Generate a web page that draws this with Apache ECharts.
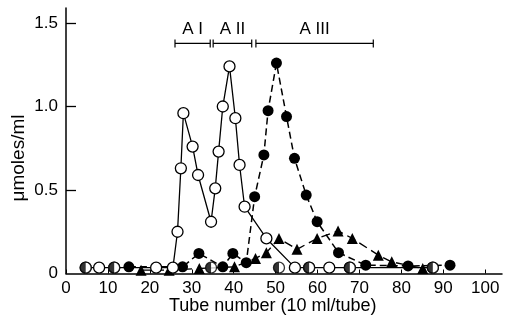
<!DOCTYPE html>
<html><head><meta charset="utf-8">
<script src="https://cdn.jsdelivr.net/npm/echarts@6/dist/echarts.min.js"></script>
<style>html,body{margin:0;padding:0;background:#fff}#c{width:506px;height:320px}</style>
</head><body><div id="c"></div>
<script>
// Open circles (solid line)
const openX = [4.7, 7.9, 11.5, 21.5, 25.5, 26.6, 27.4, 28.0, 30.2, 31.5, 34.6, 35.6, 36.4, 37.4, 39.0, 40.4, 41.4, 42.6, 47.8, 54.6, 58.0, 62.8, 67.7, 87.5];
const openY = [0.035, 0.035, 0.035, 0.035, 0.035, 0.25, 0.63, 0.96, 0.76, 0.59, 0.31, 0.51, 0.73, 1.0, 1.24, 0.93, 0.65, 0.40, 0.21, 0.035, 0.035, 0.035, 0.035, 0.035];
// Filled circles (dashed line)
const filledX = [15.0, 27.8, 31.7, 37.4, 39.8, 43.0, 45.0, 47.2, 48.2, 50.2, 52.6, 54.5, 57.3, 59.9, 65.0, 71.5, 81.6, 91.6];
const filledY = [0.04, 0.04, 0.12, 0.04, 0.12, 0.065, 0.46, 0.71, 0.975, 1.26, 0.94, 0.69, 0.47, 0.31, 0.125, 0.05, 0.045, 0.05];
// Triangles (dashed line)
const triX = [17.9, 24.6, 31.8, 40.2, 45.2, 47.8, 50.8, 55.1, 59.9, 64.9, 68.3, 74.5, 77.7, 85.1];
const triY = [0.02, 0.02, 0.03, 0.04, 0.09, 0.125, 0.21, 0.145, 0.21, 0.255, 0.21, 0.11, 0.07, 0.03];
// Half-filled circles at baseline
const halfX = [4.7, 11.5, 34.6, 50.8, 58.0, 67.7, 87.5];
const halfY = [0.035, 0.035, 0.035, 0.035, 0.035, 0.035, 0.035];
// Fraction bars
const fracNames = ['A I', 'A II', 'A III'];
const fracStart = [26.0, 35.1, 45.3];
const fracEnd = [34.4, 44.3, 73.3];
const fracLevel = [1.378, 1.378, 1.378];
// Ticks
const xTicks = [0, 10, 20, 30, 40, 50, 60, 70, 80, 90, 100];
const yLabels = [0, 0.5, 1.0, 1.5];
const yTicks = [0.5, 1.0, 1.5];

const zip = (a, b) => a.map((v, i) => [v, b[i]]);
const FONT = 'Liberation Sans, Arial, sans-serif';
const chart = echarts.init(document.getElementById('c'), null, {renderer: 'canvas'});
chart.setOption({
  backgroundColor: '#fff',
  animation: false,
  grid: {left: 66, right: 4, top: 8, bottom: 46.5},
  xAxis: {
    type: 'value', min: 0, max: 104,
    axisLine: {lineStyle: {color: '#000', width: 1.5}},
    axisTick: {inside: true, length: 4, customValues: xTicks, lineStyle: {color: '#000'}},
    axisLabel: {customValues: xTicks, color: '#000', fontSize: 17, fontFamily: FONT, margin: 6},
    splitLine: {show: false}
  },
  yAxis: {
    type: 'value', min: 0, max: 1.59,
    axisLine: {show: true, lineStyle: {color: '#000', width: 1.5}},
    axisTick: {show: true, inside: true, length: 10, customValues: yTicks, lineStyle: {color: '#000', width: 1.3}},
    axisLabel: {customValues: yLabels, color: '#000', fontSize: 17, fontFamily: FONT, margin: 8,
      formatter: v => v === 0 ? '0' : v.toFixed(1)},
    splitLine: {show: false}
  },
  graphic: [
    {type: 'text', left: 169, top: 297, style: {text: 'Tube number (10 ml/tube)', fill: '#000', fontSize: 18, fontFamily: FONT}},
    {type: 'text', x: 19, y: 158, rotation: Math.PI / 2, style: {text: 'μmoles/ml', fill: '#000', fontSize: 19, fontFamily: FONT, align: 'center', verticalAlign: 'middle'}}
  ],
  series: [
    {
      type: 'custom',
      data: fracNames.map((n, i) => [fracStart[i], fracEnd[i], fracLevel[i]]),
      renderItem: (params, api) => {
        const s = api.coord([api.value(0), api.value(2)]);
        const e = api.coord([api.value(1), api.value(2)]);
        const st = {stroke: '#000', lineWidth: 1.2};
        return {type: 'group', children: [
          {type: 'line', shape: {x1: s[0], y1: s[1], x2: e[0], y2: e[1]}, style: st},
          {type: 'line', shape: {x1: s[0], y1: s[1] - 4, x2: s[0], y2: s[1] + 4}, style: st},
          {type: 'line', shape: {x1: e[0], y1: e[1] - 4, x2: e[0], y2: e[1] + 4}, style: st},
          {type: 'text', x: (s[0] + e[0]) / 2, y: s[1] - 6, style: {text: fracNames[params.dataIndex], fill: '#000', fontSize: 17, fontFamily: FONT, align: 'center', verticalAlign: 'bottom'}}
        ]};
      },
      z: 5
    },
    {
      type: 'line', data: zip(triX, triY), symbol: 'triangle', symbolSize: 11,
      lineStyle: {color: '#000', width: 1.4, type: [9, 5]},
      itemStyle: {color: '#000'}, z: 2
    },
    {
      type: 'line', data: zip(filledX, filledY), symbol: 'circle', symbolSize: 11,
      lineStyle: {color: '#000', width: 1.5, type: [7, 4]},
      itemStyle: {color: '#000'}, z: 3
    },
    {
      type: 'line', data: zip(openX, openY), symbol: 'circle', symbolSize: 11, showAllSymbol: true,
      lineStyle: {color: '#000', width: 1.3},
      itemStyle: {color: '#fff', borderColor: '#000', borderWidth: 1.3}, z: 4
    },
    {
      type: 'scatter', data: zip(halfX, halfY), symbol: 'circle', symbolSize: 11,
      itemStyle: {color: '#fff', borderColor: '#000', borderWidth: 1.3}, z: 6
    },
    {
      type: 'scatter', data: zip(halfX, halfY), symbol: 'path://M10,0 A10,10 0 0,0 10,20 Z',
      symbolSize: [5.5, 11], symbolOffset: [-2.75, 0], itemStyle: {color: '#000'}, z: 7
    }
  ]
});
</script></body></html>
